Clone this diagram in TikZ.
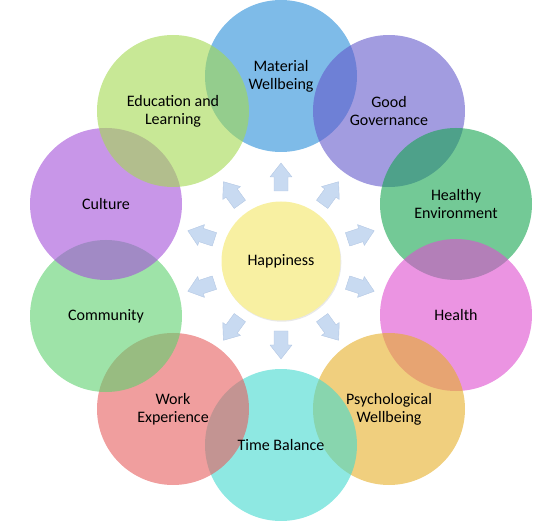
\documentclass[tikz,border=0pt]{standalone}
\usepackage{fontspec}
\setmainfont{Carlito}
\usetikzlibrary{shadows}
\definecolor{cMat}{RGB}{40,142,217}
\definecolor{cGov}{RGB}{100,90,203}
\definecolor{cEnv}{RGB}{22,165,80}
\definecolor{cHea}{RGB}{222,77,207}
\definecolor{cPsy}{RGB}{230,175,40}
\definecolor{cTim}{RGB}{67,217,207}
\definecolor{cWor}{RGB}{230,93,93}
\definecolor{cCom}{RGB}{93,208,110}
\definecolor{cCul}{RGB}{163,80,217}
\definecolor{cEdu}{RGB}{163,217,80}
\definecolor{cHap}{RGB}{248,240,162}
\definecolor{cArr}{RGB}{200,218,241}
\definecolor{cArrEdge}{RGB}{180,200,228}
\begin{document}
\begin{tikzpicture}[x=1pt,y=-1pt,
  bub/.style={circle, minimum size=152pt, inner sep=0pt, fill opacity=0.6},
  lbl/.style={align=center, font=\fontsize{16}{18}\selectfont, text=black},
  hapbox/.style={circle, minimum size=119pt, inner sep=0pt, fill=cHap,
    drop shadow={opacity=0.18, shadow xshift=0.8pt, shadow yshift=-1.2pt}},
  arr/.style={fill=cArr, draw=cArrEdge, line width=0.4pt, line join=round}]
\useasboundingbox (0,0) rectangle (557,521);
% outer circles (drawing order sets overlap colours)
\node[bub, fill=cMat] (mat) at (281,76) {};
\node[bub, fill=cGov] (gov) at (389,111) {};
\node[bub, fill=cEnv] (env) at (456,204) {};
\node[bub, fill=cHea] (hea) at (456,315) {};
\node[bub, fill=cPsy] (psy) at (389,409) {};
\node[bub, fill=cTim] (tim) at (281,445) {};
\node[bub, fill=cWor] (wor) at (173,409) {};
\node[bub, fill=cCom] (com) at (106,316) {};
\node[bub, fill=cCul] (cul) at (106,204) {};
\node[bub, fill=cEdu] (edu) at (173,111) {};
% centre
\node[hapbox] (hap) at (281,261) {};
% labels
\node[lbl] (tmat) at (mat.center) {Material\\Wellbeing};
\node[lbl] (tgov) at (gov.center) {Good\\Governance};
\node[lbl] (tenv) at (env.center) {Healthy\\Environment};
\node[lbl] (thea) at (hea.center) {Health};
\node[lbl] (tpsy) at (psy.center) {Psychological\\Wellbeing};
\node[lbl] (ttim) at (tim.center) {Time Balance};
\node[lbl] (twor) at (wor.center) {Work\\Experience};
\node[lbl] (tcom) at (com.center) {Community};
\node[lbl] (tcul) at (cul.center) {Culture};
\node[lbl] (tedu) at (edu.center) {Education and\\Learning};
\node[lbl] (thap) at (hap.center) {Happiness};
% outward block arrows
\foreach \a in {90,54,18,-18,-54,-90,-126,-162,162,126}{
  \begin{scope}[shift={(hap.center)}, rotate=\a]
    \path[arr] (70,-7) -- (84,-7) -- (84,-11) -- (98,0) -- (84,11) -- (84,7) -- (70,7) -- cycle;
  \end{scope}
}
\end{tikzpicture}
\end{document}
